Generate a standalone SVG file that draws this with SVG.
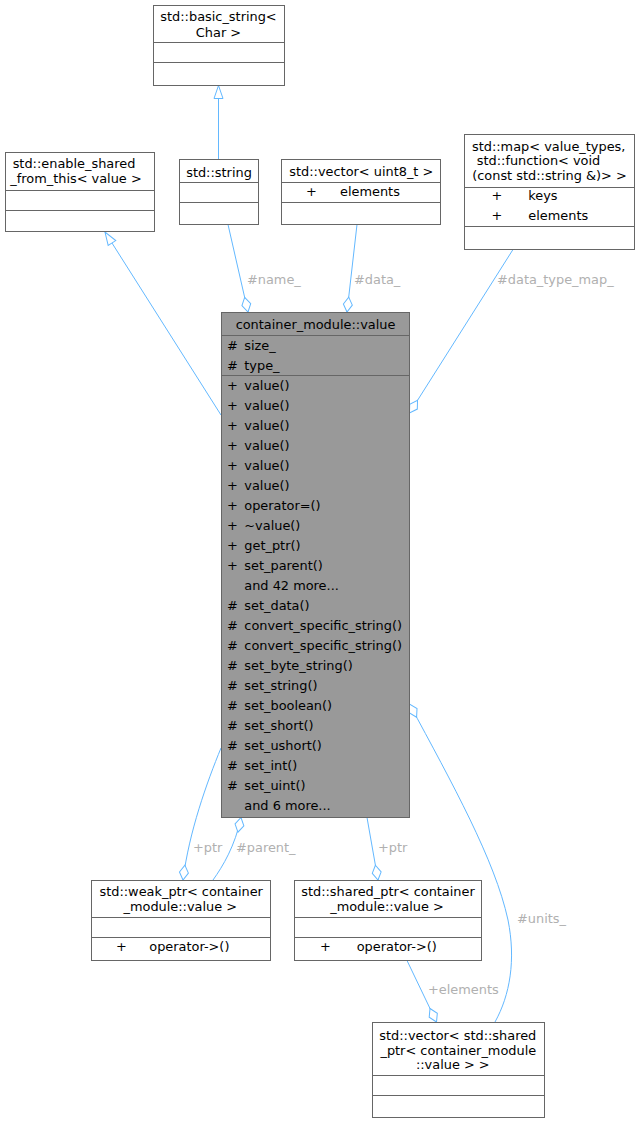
<svg xmlns="http://www.w3.org/2000/svg" width="639" height="1123" viewBox="0 0 639 1123">
<style>
text{font-family:"DejaVu Sans","Liberation Sans",sans-serif;font-size:12.9px;fill:#000}
.c{text-anchor:middle}
.lbl{fill:#b0b0b0}
.box{fill:#fff;stroke:#666;stroke-width:1}
.cur{fill:#999;stroke:#666;stroke-width:1}
.div{stroke:#666;stroke-width:1}
.e{fill:none;stroke:#63b8ff;stroke-width:1}
</style>
<defs>
<marker id="dia" viewBox="-1 -6 17 12" refX="15" refY="0" markerWidth="17" markerHeight="12" markerUnits="userSpaceOnUse" orient="auto">
<path d="M0,0 L7.5,-4.5 L15,0 L7.5,4.5 Z" fill="#fff" stroke="#63b8ff" stroke-width="1"/>
</marker>
<marker id="tri" viewBox="-1 -6 15 12" refX="13" refY="0" markerWidth="15" markerHeight="12" markerUnits="userSpaceOnUse" orient="auto">
<path d="M0,-4.5 L13,0 L0,4.5 Z" fill="#fff" stroke="#63b8ff" stroke-width="1"/>
</marker>
</defs>
<g id="edges">
<path class="e" d="M218.5,159 L218.5,85.5" marker-end="url(#tri)"/>
<path class="e" d="M221,415 L105,232" marker-end="url(#tri)"/>
<path class="e" d="M228,224.5 L248,312" marker-end="url(#dia)"/>
<text class="lbl" x="247" y="284">#name_</text>
<path class="e" d="M357,224.5 L347,312" marker-end="url(#dia)"/>
<text class="lbl" x="354" y="284">#data_</text>
<path class="e" d="M513,249.5 L409.5,413" marker-end="url(#dia)"/>
<text class="lbl" x="497" y="284">#data_type_map_</text>
<path class="e" d="M221,748 C207,782 189,832 183,880" marker-end="url(#dia)"/>
<text class="lbl" x="193" y="852">+ptr</text>
<path class="e" d="M213,880 C223,866 235,846 241,817.5" marker-end="url(#dia)"/>
<text class="lbl" x="236" y="852">#parent_</text>
<path class="e" d="M367,817.5 L378,880" marker-end="url(#dia)"/>
<text class="lbl" x="378" y="852">+ptr</text>
<path class="e" d="M407,960.5 L436.5,1022" marker-end="url(#dia)"/>
<text class="lbl" x="428" y="994">+elements</text>
<path class="e" d="M495,1022 C510,995 516,960 508,920 C495,860 452,783 409.5,704" marker-end="url(#dia)"/>
<text class="lbl" x="517" y="923">#units_</text>
</g>
<g id="basic_string">
<rect class="box" x="153.5" y="5.5" width="131" height="80"/>
<line class="div" x1="153.5" y1="42.5" x2="284.5" y2="42.5"/>
<line class="div" x1="153.5" y1="62.5" x2="284.5" y2="62.5"/>
<text class="c" x="218.5" y="21">std::basic_string&lt;</text>
<text class="c" x="218.5" y="36.5">Char &gt;</text>
</g>
<g id="enable_shared_from_this">
<rect class="box" x="5.5" y="152.5" width="149" height="79"/>
<line class="div" x1="5.5" y1="190.5" x2="154.5" y2="190.5"/>
<line class="div" x1="5.5" y1="210.5" x2="154.5" y2="210.5"/>
<text class="c" x="74" y="168">std::enable_shared</text>
<text class="c" x="76" y="183">_from_this&lt; value &gt;</text>
</g>
<g id="std_string">
<rect class="box" x="179.5" y="159.5" width="79" height="65"/>
<line class="div" x1="179.5" y1="182.5" x2="258.5" y2="182.5"/>
<line class="div" x1="179.5" y1="202.5" x2="258.5" y2="202.5"/>
<text class="c" x="219" y="176.5">std::string</text>
</g>
<g id="vector_uint8">
<rect class="box" x="281.5" y="159.5" width="159" height="65"/>
<line class="div" x1="281.5" y1="182.5" x2="440.5" y2="182.5"/>
<line class="div" x1="281.5" y1="202.5" x2="440.5" y2="202.5"/>
<text class="c" x="361.3" y="176">std::vector&lt; uint8_t &gt;</text>
<text x="306" y="196">+</text>
<text x="340" y="196">elements</text>
</g>
<g id="map">
<rect class="box" x="464.5" y="134.5" width="170" height="115"/>
<line class="div" x1="464.5" y1="187.5" x2="634.5" y2="187.5"/>
<line class="div" x1="464.5" y1="226.5" x2="634.5" y2="226.5"/>
<text class="c" x="548.7" y="151">std::map&lt; value_types,</text>
<text class="c" x="538.5" y="165">std::function&lt; void</text>
<text class="c" x="549.5" y="179.5">(const std::string &amp;)&gt; &gt;</text>
<text x="491.5" y="199.5">+</text>
<text x="528.3" y="199.5">keys</text>
<text x="491.5" y="219.5">+</text>
<text x="528.3" y="219.5">elements</text>
</g>
<g id="value">
<rect class="cur" x="221.5" y="312.5" width="188" height="505"/>
<line class="div" x1="221.5" y1="335.5" x2="409.5" y2="335.5"/>
<line class="div" x1="221.5" y1="375.5" x2="409.5" y2="375.5"/>
<text class="c" x="315.5" y="328.8">container_module::value</text>
<text x="227" y="349.5">#</text><text x="244.3" y="349.5">size_</text>
<text x="227" y="369.5">#</text><text x="244.3" y="369.5">type_</text>
<text x="227" y="389.5">+</text><text x="244.3" y="389.5">value()</text>
<text x="227" y="409.5">+</text><text x="244.3" y="409.5">value()</text>
<text x="227" y="429.5">+</text><text x="244.3" y="429.5">value()</text>
<text x="227" y="449.5">+</text><text x="244.3" y="449.5">value()</text>
<text x="227" y="469.5">+</text><text x="244.3" y="469.5">value()</text>
<text x="227" y="489.5">+</text><text x="244.3" y="489.5">value()</text>
<text x="227" y="509.5">+</text><text x="244.3" y="509.5">operator=()</text>
<text x="227" y="529.5">+</text><text x="244.3" y="529.5">~value()</text>
<text x="227" y="549.5">+</text><text x="244.3" y="549.5">get_ptr()</text>
<text x="227" y="569.5">+</text><text x="244.3" y="569.5">set_parent()</text>
<text x="244.3" y="589.5">and 42 more...</text>
<text x="227" y="609.5">#</text><text x="244.3" y="609.5">set_data()</text>
<text x="227" y="629.5">#</text><text x="244.3" y="629.5">convert_specific_string()</text>
<text x="227" y="649.5">#</text><text x="244.3" y="649.5">convert_specific_string()</text>
<text x="227" y="669.5">#</text><text x="244.3" y="669.5">set_byte_string()</text>
<text x="227" y="689.5">#</text><text x="244.3" y="689.5">set_string()</text>
<text x="227" y="709.5">#</text><text x="244.3" y="709.5">set_boolean()</text>
<text x="227" y="729.5">#</text><text x="244.3" y="729.5">set_short()</text>
<text x="227" y="749.5">#</text><text x="244.3" y="749.5">set_ushort()</text>
<text x="227" y="769.5">#</text><text x="244.3" y="769.5">set_int()</text>
<text x="227" y="789.5">#</text><text x="244.3" y="789.5">set_uint()</text>
<text x="244.3" y="809.5">and 6 more...</text>
</g>
<g id="weak_ptr">
<rect class="box" x="91.5" y="880.5" width="179" height="80"/>
<line class="div" x1="91.5" y1="917.5" x2="270.5" y2="917.5"/>
<line class="div" x1="91.5" y1="937.5" x2="270.5" y2="937.5"/>
<text class="c" x="181.2" y="896">std::weak_ptr&lt; container</text>
<text class="c" x="180.3" y="910.5">_module::value &gt;</text>
<text x="116" y="950.5">+</text>
<text x="149.3" y="950.5">operator-&gt;()</text>
</g>
<g id="shared_ptr">
<rect class="box" x="294.5" y="880.5" width="187" height="80"/>
<line class="div" x1="294.5" y1="917.5" x2="481.5" y2="917.5"/>
<line class="div" x1="294.5" y1="937.5" x2="481.5" y2="937.5"/>
<text class="c" x="388" y="896">std::shared_ptr&lt; container</text>
<text class="c" x="387" y="910.5">_module::value &gt;</text>
<text x="320" y="950.5">+</text>
<text x="356.7" y="950.5">operator-&gt;()</text>
</g>
<g id="vector_shared_ptr">
<rect class="box" x="372.5" y="1022.5" width="172" height="95"/>
<line class="div" x1="372.5" y1="1075.5" x2="544.5" y2="1075.5"/>
<line class="div" x1="372.5" y1="1095.5" x2="544.5" y2="1095.5"/>
<text class="c" x="457.8" y="1040">std::vector&lt; std::shared</text>
<text class="c" x="458.3" y="1054.5">_ptr&lt; container_module</text>
<text class="c" x="452.8" y="1068.5">::value &gt; &gt;</text>
</g>
</svg>
